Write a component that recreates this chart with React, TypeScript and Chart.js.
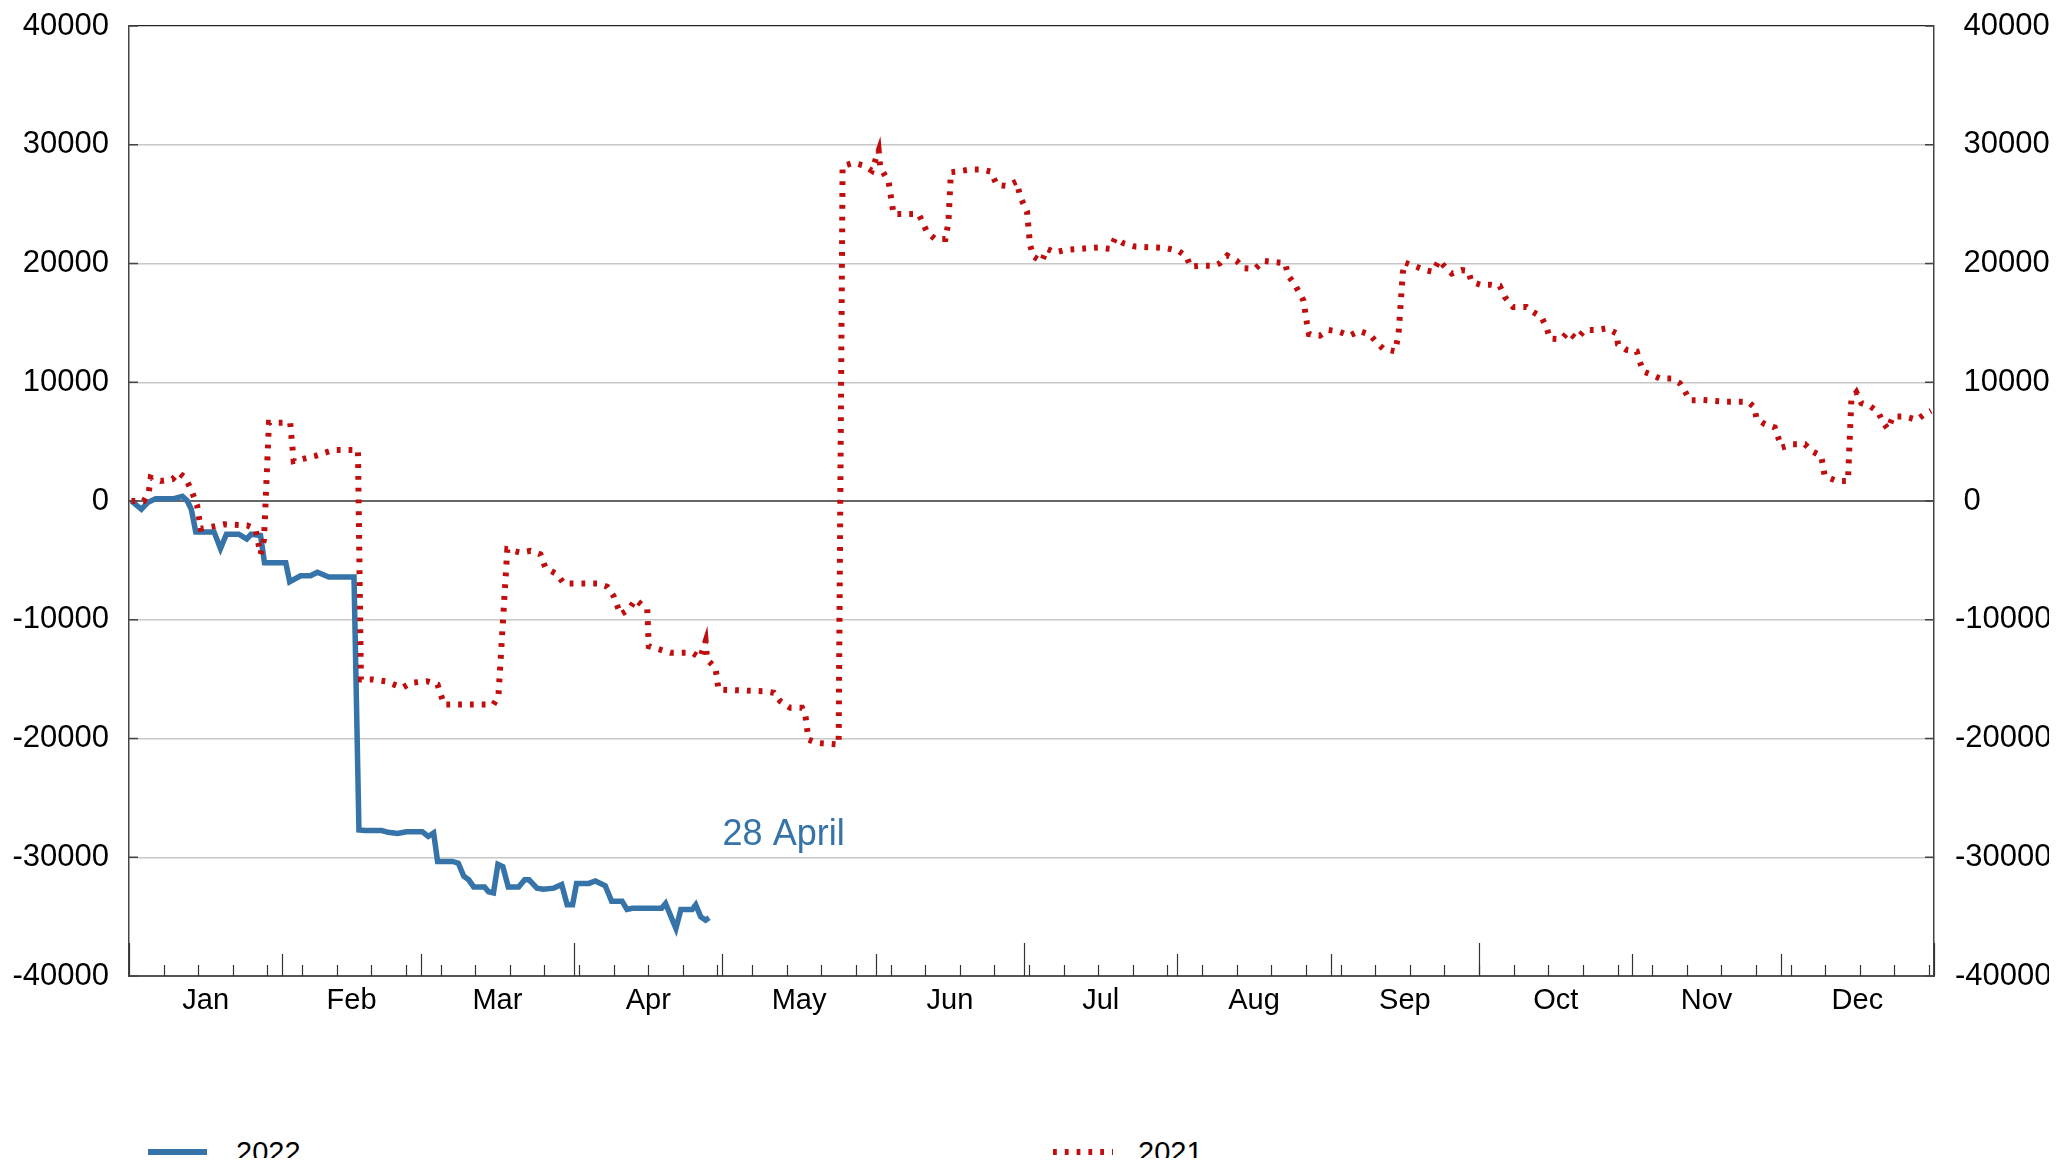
import React, { useEffect, useRef } from 'react';
import { Chart, registerables } from 'chart.js';

Chart.register(...registerables);

const FONT = '"Liberation Sans", Arial, Helvetica, sans-serif';
const BLUE = '#3573a9';
const RED = '#c00e0e';

// x axis: day of year (0 = 1 January)
const monthLabels = ['Jan', 'Feb', 'Mar', 'Apr', 'May', 'Jun', 'Jul', 'Aug', 'Sep', 'Oct', 'Nov', 'Dec'];
const monthCenterDays = [15.5, 45, 74.5, 105, 135.5, 166, 196.5, 227.5, 258, 288.5, 319, 349.5];
const monthStartDays = [31, 59, 120, 151, 212, 243, 304, 334];
const quarterStartDays = [0, 90, 181, 273, 365];
const weekTickDays = [7, 14, 21, 28, 35, 42, 49, 56, 63, 70, 77, 84, 91, 98, 105, 112, 119, 126, 133, 140, 147, 154, 161, 168, 175, 182, 189, 196, 203, 210, 217, 224, 231, 238, 245, 252, 259, 266, 273, 280, 287, 294, 301, 308, 315, 322, 329, 336, 343, 350, 357, 364];
const yTickValues = [-40000, -30000, -20000, -10000, 0, 10000, 20000, 30000, 40000];

const seriesLabels = ['2022', '2021'];
const annotationText = '28 April';
const annotationDay = 117;
const annotationValue = -28100;

const days2022 = [0.5, 2.5, 3.7, 5.4, 9.1, 10.8, 11.8, 12.6, 13.5, 17.2, 18.5, 19.7, 22.2, 23.8, 24.7, 26.6, 27.4, 31.7, 32.5, 34.7, 36.7, 38.1, 40.4, 45.5, 46.5, 47.8, 51.1, 52.4, 54.3, 56.1, 59.3, 60.5, 61.6, 62.4, 65.4, 66.6, 67.7, 68.7, 69.7, 71.9, 72.7, 73.7, 74.6, 75.6, 76.7, 78.8, 80.0, 80.9, 82.5, 83.8, 85.9, 87.5, 88.6, 89.7, 90.5, 93.0, 94.3, 96.3, 97.6, 99.7, 100.7, 101.8, 107.7, 108.5, 109.6, 110.6, 111.6, 113.9, 114.6, 115.6, 116.6, 117.3];
const values2022 = [0, -700, -150, 200, 200, 400, 0, -700, -2600, -2600, -4000, -2800, -2800, -3200, -2800, -2900, -5200, -5200, -6800, -6300, -6300, -6000, -6400, -6400, -27700, -27750, -27750, -27900, -28000, -27850, -27850, -28250, -27950, -30350, -30350, -30500, -31600, -31900, -32500, -32500, -32900, -33000, -30600, -30800, -32500, -32500, -31900, -31900, -32600, -32700, -32600, -32300, -34000, -34000, -32200, -32200, -32000, -32400, -33700, -33700, -34400, -34300, -34300, -33900, -35000, -36000, -34400, -34400, -34000, -35000, -35300, -35100];

const days2021 = [0.5, 3.0, 4.0, 4.4, 6.4, 8.8, 10.1, 11.5, 12.8, 13.8, 14.5, 16.9, 19.2, 23.9, 25.6, 26.6, 27.3, 28.3, 32.6, 33.3, 35.4, 37.7, 41.4, 46.3, 46.9, 49.4, 51.9, 53.6, 55.3, 57.0, 60.3, 62.4, 63.7, 73.7, 74.7, 76.5, 79.2, 81.2, 83.2, 84.2, 86.6, 87.9, 94.7, 96.7, 98.0, 99.4, 101.1, 102.4, 104.8, 105.1, 109.5, 113.9, 115.5, 116.6, 116.9, 118.6, 119.2, 128.3, 130.4, 131.7, 133.7, 136.1, 136.8, 137.4, 139.1, 143.5, 144.3, 146.5, 148.5, 150.2, 151.6, 151.9, 153.6, 154.6, 159.7, 161.4, 163.0, 165.1, 165.7, 166.2, 167.4, 170.1, 172.5, 174.2, 175.5, 177.5, 179.5, 180.2, 181.6, 182.2, 182.9, 184.6, 185.6, 187.3, 189.3, 193.7, 196.0, 198.4, 199.4, 201.1, 203.5, 207.8, 209.9, 212.2, 213.9, 214.6, 216.9, 219.3, 220.6, 222.1, 224.0, 225.3, 227.7, 229.4, 233.8, 234.4, 235.8, 237.5, 238.2, 238.6, 240.8, 242.5, 244.7, 246.8, 248.8, 250.9, 252.3, 253.6, 256.0, 256.7, 257.6, 258.0, 260.0, 262.1, 263.7, 264.9, 266.1, 267.5, 269.5, 270.8, 271.5, 273.2, 275.2, 277.2, 278.2, 279.9, 282.6, 283.9, 285.6, 286.7, 287.3, 289.7, 291.0, 292.7, 294.4, 296.8, 298.8, 300.8, 301.1, 302.8, 304.9, 305.5, 306.2, 307.9, 309.6, 311.9, 313.6, 314.6, 315.6, 318.3, 320.7, 323.0, 327.4, 328.7, 329.1, 330.8, 332.8, 334.2, 336.5, 338.9, 340.2, 342.2, 342.9, 345.3, 347.6, 348.3, 349.3, 350.3, 352.0, 353.7, 354.7, 355.7, 356.7, 359.1, 361.5, 363.1, 364.4];
const values2021 = [0, 0, 760, 1970, 1690, 1830, 2390, 1890, 710, -420, -2330, -2160, -1960, -2050, -2390, -4490, -3230, 6580, 6580, 3370, 3570, 3800, 4300, 4300, -15030, -15030, -15180, -15460, -15730, -15310, -15180, -15460, -17140, -17140, -16440, -4070, -4350, -4200, -4490, -5620, -6180, -6940, -6940, -7220, -8010, -9550, -9130, -8290, -9130, -12230, -12780, -12780, -13200, -11800, -13350, -14050, -15880, -16020, -16150, -16860, -17420, -17420, -18130, -20090, -20370, -20510, 28200, 28470, 28250, 27820, 29510, 28110, 26900, 24170, 24170, 22630, 22070, 22070, 23470, 27690, 27740, 27910, 27910, 27740, 26620, 26530, 26900, 25640, 24370, 21570, 20580, 20160, 21230, 20940, 21140, 21280, 21340, 21230, 22120, 21700, 21420, 21340, 21280, 21060, 20580, 19740, 19820, 19800, 20020, 20670, 20220, 19600, 19540, 20220, 20020, 19000, 18190, 16880, 14950, 14060, 13920, 14400, 14260, 13920, 14320, 14020, 13340, 12830, 12610, 13960, 19250, 20080, 19780, 19440, 19300, 20280, 19710, 19150, 19440, 19380, 18450, 18220, 18220, 18110, 17180, 16340, 16340, 15920, 15500, 14570, 13680, 13630, 14240, 13630, 14400, 14400, 14540, 14120, 13200, 12730, 12590, 11750, 10910, 10630, 10320, 10320, 9920, 9270, 8490, 8500, 8430, 8350, 8350, 7880, 6950, 6470, 6190, 4500, 4780, 4780, 4220, 3790, 2110, 1690, 1690, 8580, 9140, 8240, 8010, 7500, 6610, 6050, 7120, 7120, 6830, 7310, 7590];

const toPoints = (xs: number[], ys: number[]) => xs.map((x, i) => ({ x, y: ys[i] }));

const decorPlugin = {
  id: 'decor',
  beforeDatasetsDraw(chart: any) {
    const { ctx, chartArea, scales } = chart;
    const xs = scales.x;
    const ys = scales.y;
    ctx.save();
    ctx.strokeStyle = '#333';
    ctx.lineWidth = 1.2;
    const bottom = chartArea.bottom;
    const drawTick = (d: number, len: number) => {
      const px = Math.round(xs.getPixelForValue(d)) + 0.5;
      ctx.beginPath();
      ctx.moveTo(px, bottom);
      ctx.lineTo(px, bottom - len);
      ctx.stroke();
    };
    weekTickDays.forEach((d) => drawTick(d, 11));
    monthStartDays.forEach((d) => drawTick(d, 22));
    quarterStartDays.forEach((d) => drawTick(d, 33));
    ctx.strokeStyle = '#444';
    ctx.lineWidth = 1.5;
    yTickValues.forEach((v) => {
      const py = ys.getPixelForValue(v);
      ctx.beginPath();
      ctx.moveTo(chartArea.left, py);
      ctx.lineTo(chartArea.left + 9, py);
      ctx.moveTo(chartArea.right, py);
      ctx.lineTo(chartArea.right - 9, py);
      ctx.stroke();
    });
    ctx.restore();
  },
  afterDatasetsDraw(chart: any) {
    const { ctx, scales } = chart;
    ctx.save();
    ctx.font = `36px ${FONT}`;
    ctx.fillStyle = BLUE;
    ctx.textAlign = 'left';
    ctx.textBaseline = 'middle';
    ctx.fillText(annotationText, scales.x.getPixelForValue(annotationDay) + 15, scales.y.getPixelForValue(annotationValue));
    ctx.restore();
  },
};

export default function App() {
  const ref = useRef<HTMLCanvasElement | null>(null);

  useEffect(() => {
    document.body.style.overflow = 'hidden';
    const canvas = ref.current;
    if (!canvas) return;
    Chart.defaults.font.family = FONT;
    const chart = new Chart(canvas, {
      type: 'line',
      data: {
        datasets: [
          {
            label: seriesLabels[1],
            data: toPoints(days2021, values2021),
            borderColor: RED,
            borderWidth: 6,
            borderDash: [3.8, 8],
            borderCapStyle: 'butt',
            pointRadius: 0,
            tension: 0,
            fill: false,
            order: 0,
          },
          {
            label: seriesLabels[0],
            data: toPoints(days2022, values2022),
            borderColor: BLUE,
            borderWidth: 5.5,
            borderJoinStyle: 'miter',
            pointRadius: 0,
            tension: 0,
            fill: false,
            order: 1,
          },
        ],
      },
      options: {
        responsive: false,
        animation: false,
        events: [],
        layout: { padding: { top: 18, left: 0, right: 0, bottom: 0 } },
        plugins: { legend: { display: false }, tooltip: { enabled: false } },
        scales: {
          x: {
            type: 'linear',
            min: 0,
            max: 365,
            afterBuildTicks: (scale: any) => {
              scale.ticks = monthCenterDays.map((v) => ({ value: v }));
            },
            afterFit: (scale: any) => {
              scale.height = 72;
              scale.paddingLeft = 0;
              scale.paddingRight = 0;
            },
            ticks: {
              autoSkip: false,
              maxRotation: 0,
              padding: 8,
              color: '#000',
              font: { size: 29 },
              callback: (_v: any, i: number) => monthLabels[i],
            },
            grid: { display: false, drawTicks: false },
            border: { display: true, color: '#555', width: 2 },
          },
          y: {
            position: 'left',
            min: -40000,
            max: 40000,
            afterBuildTicks: (scale: any) => {
              scale.ticks = yTickValues.map((v) => ({ value: v }));
            },
            afterFit: (scale: any) => {
              scale.width = 121;
              scale.paddingTop = 0;
              scale.paddingBottom = 0;
            },
            ticks: {
              padding: 20,
              color: '#000',
              font: { size: 31 },
              callback: (v: any) => String(v),
            },
            grid: {
              drawTicks: false,
              color: (c: any) => (c.tick && c.tick.value === 0 ? '#666' : c.tick && c.tick.value === 40000 ? '#222' : '#c8c8c8'),
              lineWidth: (c: any) => (c.tick && c.tick.value === 0 ? 2 : c.tick && c.tick.value === 40000 ? 1.3 : 1.5),
            },
            border: { display: true, color: '#444', width: 1.5 },
          },
          y2: {
            position: 'right',
            min: -40000,
            max: 40000,
            afterBuildTicks: (scale: any) => {
              scale.ticks = yTickValues.map((v) => ({ value: v }));
            },
            afterFit: (scale: any) => {
              scale.width = 115;
              scale.paddingTop = 0;
              scale.paddingBottom = 0;
            },
            ticks: {
              padding: 21,
              color: '#000',
              font: { size: 31 },
              callback: (v: any) => (Number(v) < 0 ? String(v) : ' ' + String(v)),
            },
            grid: { display: false, drawTicks: false },
            border: { display: true, color: '#444', width: 1.5 },
          },
        },
      },
      plugins: [decorPlugin],
    } as any);
    return () => chart.destroy();
  }, []);

  const legendText: React.CSSProperties = {
    position: 'absolute',
    top: 1128,
    height: 32,
    lineHeight: '32px',
    fontFamily: FONT,
    fontSize: 29,
    color: '#000',
  };

  return (
    <div style={{ position: 'relative', width: 2041, height: 1150 }}>
      <canvas ref={ref} width={2041} height={1040} style={{ display: 'block', width: 2041, height: 1040 }} />
      <svg style={{ position: 'absolute', left: 140, top: 1136, overflow: 'visible' }} width={60} height={16}>
        <line x1={0} y1={8} x2={59} y2={8} stroke={BLUE} strokeWidth={6} />
      </svg>
      <div style={{ ...legendText, left: 228 }}>{seriesLabels[0]}</div>
      <svg style={{ position: 'absolute', left: 1045, top: 1136, overflow: 'visible' }} width={60} height={16}>
        <line x1={0} y1={8} x2={60} y2={8} stroke={RED} strokeWidth={6} strokeDasharray="3.8 8" />
      </svg>
      <div style={{ ...legendText, left: 1130 }}>{seriesLabels[1]}</div>
    </div>
  );
}
